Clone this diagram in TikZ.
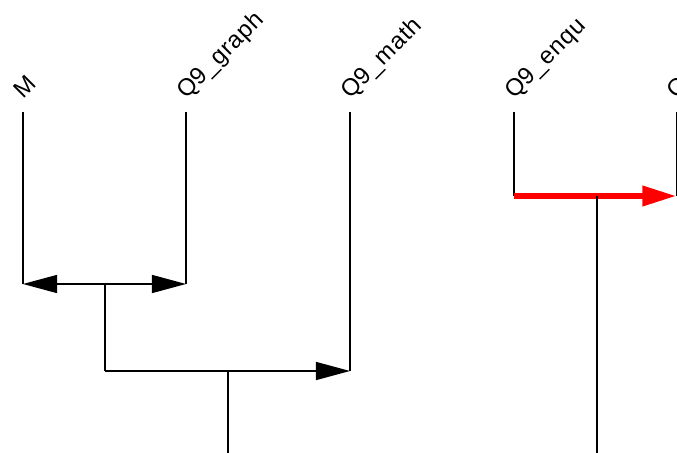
\documentclass[tikz,border=0pt]{standalone}
\usepackage{fontspec}
\setmainfont{Liberation Sans}
\newfontfamily\leaffont[LetterSpace=3]{Liberation Sans}
\usetikzlibrary{arrows.meta}

\begin{document}
\begin{tikzpicture}[
		x=0.025cm, y=-0.025cm,
		leaf/.style={font=\leaffont\fontsize{17}{20}\selectfont, rotate=45, anchor=base west, inner sep=0pt},
		link/.style={draw=black, line width=1pt},
		tip/.style={-{Triangle[length=0.85cm, width=0.45cm]}},
		hot/.style={draw=red, line width=4.3pt, -{Triangle[length=0.85cm, width=0.48cm]}}
		]
		
		% ==========================================
		% Frame of the view
		% ==========================================
		\fill[white] (0,0) rectangle (677,453);
		\useasboundingbox (0,0) rectangle (677,453);
		\clip (0,0) rectangle (677,453);
		
		% ==========================================
		% 1. Leaves and their labels
		% ==========================================
		\coordinate (M) at (23,112);
		\coordinate (graph) at (186,112);
		\coordinate (math) at (350,112);
		\coordinate (enqu) at (514,112);
		\coordinate (next) at (676.5,112);
		
		\node[leaf] (lblM) at ([shift={(0,-12)}]M) {M};
		\node[leaf] (lblgraph) at ([shift={(0,-12)}]graph) {Q9\_graph};
		\node[leaf] (lblmath) at ([shift={(0,-12)}]math) {Q9\_math};
		\node[leaf] (lblenqu) at ([shift={(0,-12)}]enqu) {Q9\_enqu};
		\node[leaf] (lblnext) at ([shift={(0,-12)}]next) {Q};
		
		% ==========================================
		% 2. Merge points
		% ==========================================
		\coordinate (j1) at (105,284);
		\coordinate (j2) at (228,371);
		\coordinate (j3) at (597,196);
		\coordinate (root2) at (228,453);
		\coordinate (root3) at (597,453);
		
		% M and Q9_graph
		\draw[link] (M) -- (M |- j1);
		\draw[link] (graph) -- (graph |- j1);
		\draw[link, tip] (j1) -- (M |- j1);
		\draw[link, tip] (j1) -- (graph |- j1);
		
		% joined with Q9_math
		\draw[link] (j1) -- (j1 |- j2);
		\draw[link] (math) -- (math |- j2);
		\draw[link, tip] (j1 |- j2) -- (math |- j2);
		\draw[link] (j2) -- (root2);
		
		% Q9_enqu and the next leaf (highlighted)
		\draw[link] (enqu) -- (enqu |- j3);
		\draw[link] (next) -- (next |- j3);
		\draw[hot] (enqu |- j3) -- (next |- j3);
		\draw[link] (j3) -- (root3);
		
	\end{tikzpicture}
\end{document}
